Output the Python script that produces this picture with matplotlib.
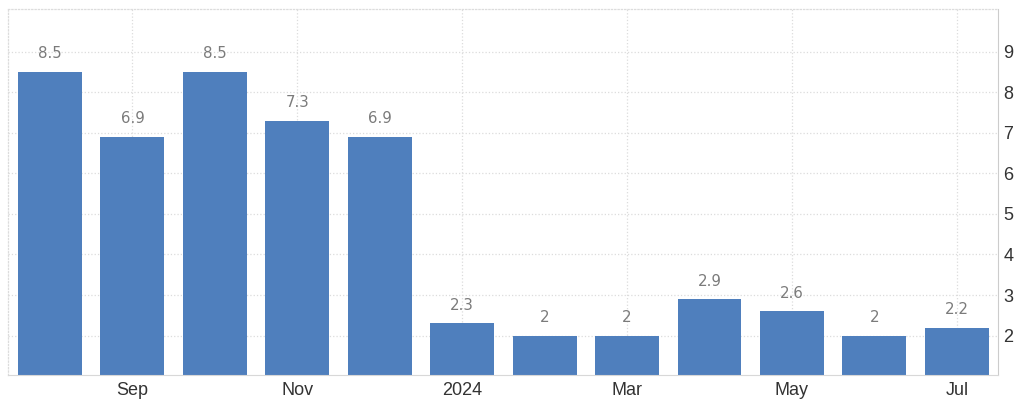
import matplotlib.pyplot as plt

# Data (Aug 2023 - Jul 2024)
months = ['Aug', 'Sep', 'Oct', 'Nov', 'Dec', 'Jan', 'Feb', 'Mar', 'Apr', 'May', 'Jun', 'Jul']
values = [8.5, 6.9, 8.5, 7.3, 6.9, 2.3, 2, 2, 2.9, 2.6, 2, 2.2]
tick_labels = ['', 'Sep', '', 'Nov', '', '2024', '', 'Mar', '', 'May', '', 'Jul']
y_ticks = [2, 3, 4, 5, 6, 7, 8, 9]

bar_color = '#4f7fbd'
grid_color = '#dcdcdc'

fig = plt.figure(figsize=(10.24, 4.03), dpi=100)
ax = fig.add_axes([8 / 1024, 28 / 403, 990 / 1024, 366 / 403])

x = list(range(len(months)))
ax.bar(x, values, width=0.776, color=bar_color, zorder=2)

# Value labels above bars
for xi, v in zip(x, values):
    ax.annotate(f'{v:g}', xy=(xi, v), xytext=(0, 7.5), textcoords='offset points',
                ha='center', va='bottom', fontsize=10.8, color='#7b7b7b',
                family='DejaVu Sans')

ax.set_xlim(-0.51, 11.5)
ax.set_ylim(1.03, 10.05)

# x ticks only on labelled months, grid lines through them
lab_pos = [i for i, t in enumerate(tick_labels) if t]
ax.set_xticks(lab_pos)
ax.set_xticklabels([tick_labels[i] for i in lab_pos], fontsize=13,
                   family='Liberation Sans', color='#333333')

ax.yaxis.tick_right()
ax.set_yticks(y_ticks)
ax.set_yticklabels([str(t) for t in y_ticks], fontsize=13,
                   family='Liberation Sans', color='#333333')
ax.tick_params(axis='both', length=0)
ax.tick_params(axis='x', pad=5)
ax.tick_params(axis='y', pad=4)
for lbl in ax.get_yticklabels():
    lbl.set_va('center_baseline')

ax.grid(True, color=grid_color, linestyle=':', linewidth=0.9, zorder=0)
ax.set_axisbelow(True)

# Spines
ax.spines['right'].set_color('#cccccc')
ax.spines['bottom'].set_color('#d8d8d8')
for s in ['top', 'left']:
    ax.spines[s].set_color(grid_color)
    ax.spines[s].set_linestyle(':')
    ax.spines[s].set_linewidth(0.9)

fig.savefig('out.png', dpi=100, facecolor='white')
